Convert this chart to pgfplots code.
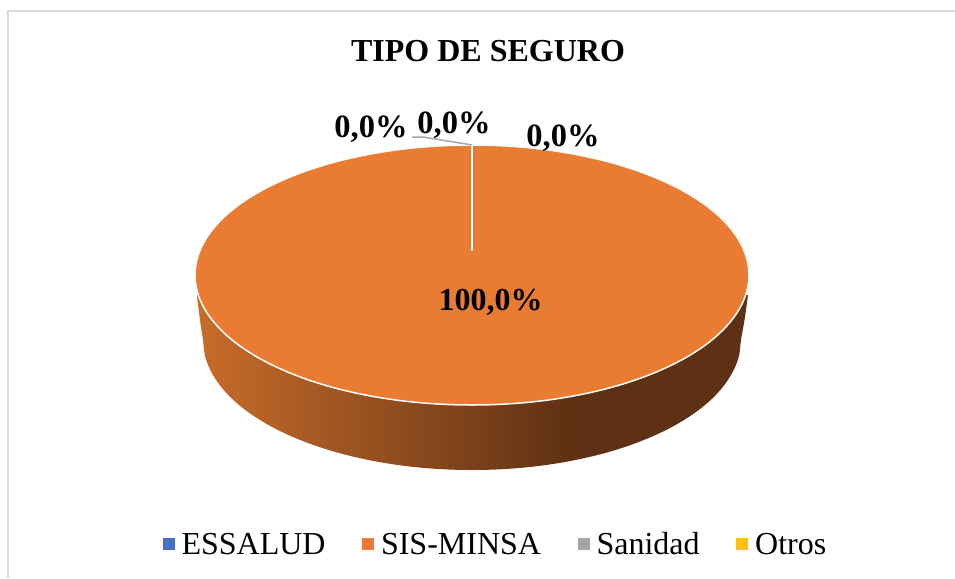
\documentclass[border=0pt]{standalone}
\usepackage{fontspec}
\setmainfont{Liberation Serif}
\usepackage{pgfplots}
\pgfplotsset{compat=1.18}
\definecolor{pieorange}{HTML}{EA7B32}
\definecolor{lblue}{HTML}{4472C4}
\definecolor{lgray}{HTML}{A5A5A5}
\definecolor{lyellow}{HTML}{FFC000}
\definecolor{wallleft}{HTML}{C86C2A}
\definecolor{walldark}{HTML}{5E3114}
\pgfdeclarehorizontalshading{wallshade}{100bp}{
  color(0bp)=(wallleft);
  color(25bp)=(wallleft);
  color(59bp)=(walldark);
  color(100bp)=(walldark)}
\begin{document}
\begin{tikzpicture}
\useasboundingbox (0,0) rectangle (955pt,578pt);
\begin{axis}[
  scale only axis, width=955pt, height=578pt,
  xmin=0, xmax=955, ymin=0, ymax=578, y dir=reverse,
  hide axis, clip=false,
  legend columns=4,
  legend style={at={(0.519,0.0588)},anchor=center,draw=none,fill=none,
    font=\fontsize{32}{32}\selectfont,inner sep=0pt,
    /tikz/every odd column/.append style={column sep=5.5pt},
    /tikz/every even column/.append style={column sep=35pt}},
  legend cell align=left,
]
% chart frame
\addplot[draw=white!85!black,line width=2pt,forget plot] coordinates {(8,578) (8,11) (955,11)};
% side wall
\addplot[forget plot,draw=none,smooth,tension=0.6,shading=wallshade] coordinates {
 (748,295) (744.5,320) (741,340) (738.7,357) (731.8,373.6) (720.5,389.8) (705,405) (685.4,419.1)
 (662.2,431.9) (635.8,443.1) (606.5,452.6) (574.9,460.1) (541.6,465.6) (507.1,468.9)
 (472,470) (436.9,468.9) (402.4,465.6) (369.1,460.1) (337.5,452.6) (308.2,443.1) (281.8,431.9)
 (258.6,419.1) (239,405) (223.5,389.8) (212.2,373.6) (205.3,357) (203,340) (200,320) (197,295)
} --cycle;
% top face (SIS-MINSA 100,0%)
\addplot[forget plot,draw=white,line width=1.5pt,fill=pieorange,smooth cycle,tension=0.6] coordinates {
 (749,275) (739.6,308.6) (711.9,340) (667.9,366.9) (610.5,387.6) (543.7,400.6)
 (472,405) (400.3,400.6) (333.5,387.6) (276.1,366.9) (232.1,340) (204.4,308.6)
 (195,275) (204.4,241.4) (232.1,210) (276.1,183.1) (333.5,162.4) (400.3,149.4)
 (472,145) (543.7,149.4) (610.5,162.4) (667.9,183.1) (711.9,210) (739.6,241.4)
};
% slice boundary and leader line
\addplot[forget plot,draw=white,line width=1.5pt] coordinates {(472,145) (472,251)};
\addplot[forget plot,draw=lgray,line width=1.5pt] coordinates {(412,137) (423,137) (472,145)};
% legend entries
\addlegendimage{only marks,mark=square*,mark size=5.5pt,color=lblue}
\addlegendentry{\strut ESSALUD}
\addlegendimage{only marks,mark=square*,mark size=5.5pt,color=pieorange}
\addlegendentry{\strut SIS-MINSA}
\addlegendimage{only marks,mark=square*,mark size=5.5pt,color=lgray}
\addlegendentry{\strut Sanidad}
\addlegendimage{only marks,mark=square*,mark size=5.5pt,color=lyellow}
\addlegendentry{\strut Otros}
% text
\node[font=\fontsize{32}{32}\selectfont\bfseries] at (axis cs:488,51) {TIPO DE SEGURO};
\node[font=\fontsize{32.5}{32}\selectfont\bfseries] at (axis cs:371,129) {0,0\%};
\node[font=\fontsize{32.5}{32}\selectfont\bfseries] at (axis cs:454,125) {0,0\%};
\node[font=\fontsize{32.5}{32}\selectfont\bfseries] at (axis cs:563,138) {0,0\%};
\node[font=\fontsize{32}{32}\selectfont\bfseries] at (axis cs:490.5,302) {100,0\%};
\end{axis}
\end{tikzpicture}
\end{document}
